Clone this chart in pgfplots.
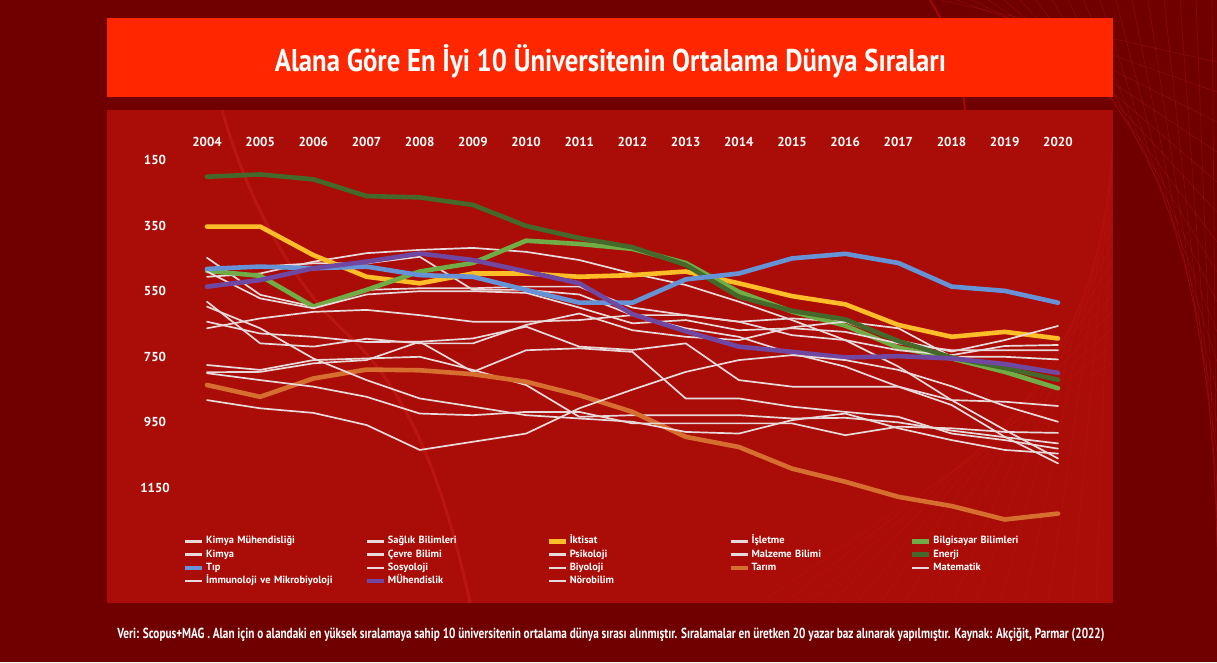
\documentclass[border=0pt]{standalone}
\usepackage{fontspec}
\setmainfont{PT Sans}
\usepackage{graphicx}
\usepackage{pgfplots}
\usepackage{pgfplotstable}
\pgfplotsset{compat=1.18}

\definecolor{bgdark}{RGB}{112,0,0}
\definecolor{panel}{RGB}{170,13,8}
\definecolor{titlebar}{RGB}{255,38,0}
\definecolor{cEnerji}{RGB}{68,105,42}
\definecolor{cBilg}{RGB}{112,173,71}
\definecolor{cIkt}{RGB}{255,190,40}
\definecolor{cTip}{RGB}{102,146,214}
\definecolor{cMuh}{RGB}{112,72,162}
\definecolor{cTarim}{RGB}{214,110,48}
\definecolor{cWhite}{RGB}{232,218,218}

% average world rank of the top 10 universities per field
\pgfplotstableread{
year kimyamuh saglik iktisat isletme bilg kimya cevre psik malz enerji tip sosyo biyo tarim mat immuno muh noro
2004 506 480 353 448 488 490 663 582 643 201 482 797 775 836 597 800 536 882
2005 496 475 353 561 503 572 633 709 679 194 475 796 790 872 663 821 516 907
2006 460 465 440 597 597 602 613 719 689 209 480 770 760 816 755 841 480 921
2007 434 465 506 546 546 560 607 695 705 260 475 760 755 789 821 872 460 958
2008 424 445 526 541 490 550 623 709 704 264 501 704 750 791 877 923 435 1034
2009 418 546 496 541 464 550 643 709 694 287 506 796 790 803 902 928 455 1009
2010 430 546 496 536 396 555 643 653 658 351 546 730 836 826 928 918 490 984
2011 455 560 506 536 406 600 638 618 719 388 585 724 933 867 938 918 526 907
2012 496 623 501 600 421 648 623 669 729 416 585 735 928 918 948 953 620 850
2013 531 663 490 623 464 638 623 689 709 470 514 877 928 994 979 953 672 796
2014 582 689 526 643 552 669 643 699 821 567 496 877 928 1025 984 953 719 760
2015 638 740 565 633 612 663 684 660 841 610 450 902 938 1091 943 953 735 745
2016 699 780 590 643 655 674 699 643 841 636 436 918 936 1131 923 989 752 760
2017 780 841 653 700 722 709 730 663 841 702 464 933 950 1177 968 963 748 790
2018 882 897 689 734 755 730 745 750 882 752 536 984 975 1205 1004 968 755 840
2019 973 994 674 699 796 730 717 750 887 784 549 1004 995 1246 1034 979 772 900
2020 1060 1075 694 656 846 730 714 758 900 820 585 1030 1014 1228 1045 982 799 948
}\ranks

\pgfplotsset{
  wl/.style={cWhite, line width=1.7pt, legend image post style={line width=2.6pt}},
  cl/.style={line width=4.6pt},
}

\begin{document}
\begin{tikzpicture}[x=1pt,y=1pt]
\useasboundingbox (0,0) rectangle (1217,662);
\fill[bgdark] (0,0) rectangle (1217,662);
% background streaks
\foreach \i in {0,...,18}
  \draw[red!80!white, opacity=0.18, line width=0.6pt] (940+\i*16,662) -- (1217,600-\i*30);
\draw[red!90!white, opacity=0.35, line width=2pt] (930,662) .. controls (950,630) and (960,600) .. (965,552);
\fill[panel] (107,59) rectangle (1113,552);
\draw[red!75!white, opacity=0.18, line width=3pt] (222,552) .. controls (245,470) and (290,380) .. (345,330) .. controls (400,280) and (440,200) .. (470,59);
\foreach \i in {0,...,14}
  \draw[red!85!white, opacity=0.12, line width=0.5pt] (760+\i*24,59) -- (1113,300+\i*17);
\fill[titlebar] (107,565) rectangle (1113,644);
\node[anchor=base, text=white, inner sep=0pt] at (610.5,590)
  {\resizebox{671pt}{27pt}{\bfseries Alana Göre En İyi 10 Üniversitenin Ortalama Dünya Sıraları}};
\node[anchor=base, text=white, inner sep=0pt] at (611,24)
  {\resizebox{987pt}{10.5pt}{\bfseries Veri: Scopus+MAG . Alan için o alandaki en yüksek sıralamaya sahip 10 üniversitenin ortalama dünya sırası alınmıştır. Sıralamalar en üretken 20 yazar baz alınarak yapılmıştır. Kaynak: Akçiğit, Parmar (2022)}};

\begin{axis}[
  at={(207pt,174pt)}, anchor=south west,
  scale only axis, width=851pt, height=328pt,
  xmin=2004, xmax=2020, ymin=150, ymax=1150,
  y dir=reverse,
  clip=false,
  axis line style={draw=none},
  major tick length=0pt,
  xtick={2004,...,2020},
  ytick={150,350,...,1150},
  xticklabel pos=top,
  /pgf/number format/1000 sep={},
  /pgf/number format/assume math mode=true,
  ticklabel style={font=\fontsize{13}{15}\selectfont\bfseries, text=white},
  xticklabel style={anchor=center, yshift=18pt},
  yticklabel style={anchor=center, xshift=-52pt},
  line join=round, line cap=round,
  legend columns=5,
  legend cell align=left,
  legend image code/.code={\draw[#1, line cap=butt] (0pt,0pt) -- (17pt,0pt);},
  legend style={
    at={(axis description cs:-0.032,-0.136)}, anchor=north west,
    draw=none, fill=none, text=white,
    font=\fontsize{10.4}{12}\selectfont\bfseries,
    nodes={text width=152pt, text height=7.5pt, text depth=2.5pt, inner sep=1.6pt},
    /tikz/every even column/.append style={column sep=5pt},
    row sep=0pt,
  },
]
\addplot[wl] table[x=year, y=kimyamuh] {\ranks}; \addlegendentry{Kimya Mühendisliği}
\addplot[wl] table[x=year, y=saglik] {\ranks}; \addlegendentry{Sağlık Bilimleri}
\addplot[cl, cIkt] table[x=year, y=iktisat] {\ranks}; \addlegendentry{İktisat}
\addplot[wl] table[x=year, y=isletme] {\ranks}; \addlegendentry{İşletme}
\addplot[cl, cBilg] table[x=year, y=bilg] {\ranks}; \addlegendentry{Bilgisayar Bilimleri}
\addplot[wl] table[x=year, y=kimya] {\ranks}; \addlegendentry{Kimya}
\addplot[wl] table[x=year, y=cevre] {\ranks}; \addlegendentry{Çevre Bilimi}
\addplot[wl] table[x=year, y=psik] {\ranks}; \addlegendentry{Psikoloji}
\addplot[wl] table[x=year, y=malz] {\ranks}; \addlegendentry{Malzeme Bilimi}
\addplot[cl, cEnerji] table[x=year, y=enerji] {\ranks}; \addlegendentry{Enerji}
\addplot[cl, cTip] table[x=year, y=tip] {\ranks}; \addlegendentry{Tıp}
\addplot[wl] table[x=year, y=sosyo] {\ranks}; \addlegendentry{Sosyoloji}
\addplot[wl] table[x=year, y=biyo] {\ranks}; \addlegendentry{Biyoloji}
\addplot[cl, cTarim] table[x=year, y=tarim] {\ranks}; \addlegendentry{Tarım}
\addplot[wl] table[x=year, y=mat] {\ranks}; \addlegendentry{Matematik}
\addplot[wl] table[x=year, y=immuno] {\ranks}; \addlegendentry{İmmunoloji ve Mikrobiyoloji}
\addplot[cl, cMuh] table[x=year, y=muh] {\ranks}; \addlegendentry{MÜhendislik}
\addplot[wl] table[x=year, y=noro] {\ranks}; \addlegendentry{Nörobilim}
\end{axis}
\end{tikzpicture}
\end{document}
